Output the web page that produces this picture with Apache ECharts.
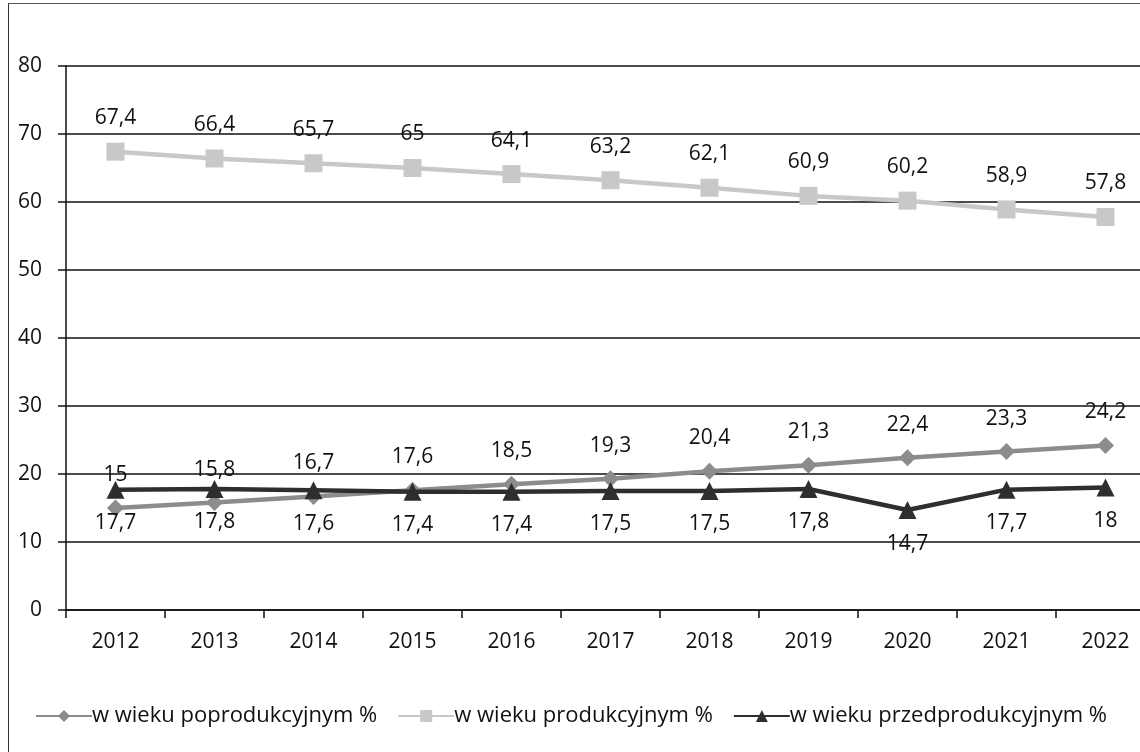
<!DOCTYPE html>
<html>
<head>
<meta charset="utf-8">
<script src="https://cdn.jsdelivr.net/npm/echarts@6/dist/echarts.min.js"></script>
<style>
html,body{margin:0;padding:0;background:#fff;overflow:hidden;width:1140px;height:752px;}
#frame{position:absolute;left:8px;top:3px;width:1140px;height:760px;border-left:1.5px solid #333;border-top:1.5px solid #555;}
#chart{position:absolute;left:0;top:0;width:1180px;height:752px;}
</style>
</head>
<body>
<div id="frame"></div>
<div id="chart"></div>
<script>
const years = ['2012','2013','2014','2015','2016','2017','2018','2019','2020','2021','2022'];
const poprodukcyjny = [15, 15.8, 16.7, 17.6, 18.5, 19.3, 20.4, 21.3, 22.4, 23.3, 24.2];
const produkcyjny = [67.4, 66.4, 65.7, 65, 64.1, 63.2, 62.1, 60.9, 60.2, 58.9, 57.8];
const przedprodukcyjny = [17.7, 17.8, 17.6, 17.4, 17.4, 17.5, 17.5, 17.8, 14.7, 17.7, 18];
const seriesNames = ['w wieku poprodukcyjnym %', 'w wieku produkcyjnym %', 'w wieku przedprodukcyjnym %'];

const FONT = '"Open Sans", "Noto Sans", sans-serif';
const fmt = p => String(p.value).replace('.', ',');

const chart = echarts.init(document.getElementById('chart'), null, {renderer: 'canvas'});
chart.setOption({
  animation: false,
  backgroundColor: 'transparent',
  grid: {left: 66, top: 66, width: 1089, height: 544, containLabel: false},
  xAxis: {
    type: 'category',
    data: years,
    boundaryGap: true,
    axisLine: {lineStyle: {color: '#111', width: 1.5}},
    axisTick: {show: true, length: 8, lineStyle: {color: '#111', width: 1.5}},
    axisLabel: {color: '#111', fontFamily: FONT, fontSize: 21, margin: 22}
  },
  yAxis: {
    type: 'value',
    min: 0, max: 80, interval: 10,
    axisLine: {show: true, lineStyle: {color: '#111', width: 1.5}},
    axisTick: {show: true, inside: false, length: 8, lineStyle: {color: '#111', width: 1.5}},
    axisLabel: {color: '#111', fontFamily: FONT, fontSize: 21, margin: 24},
    splitLine: {lineStyle: {color: '#111', width: 1.5}}
  },
  legend: {
    left: 30, top: 700,
    itemWidth: 56, itemHeight: 15, itemGap: 20,
    textStyle: {color: '#111', fontFamily: FONT, fontSize: 22, padding: [0,0,0,-5]},
    data: seriesNames
  },
  series: [
    {
      name: seriesNames[0], type: 'line', data: poprodukcyjny,
      symbol: 'diamond', symbolSize: 17,
      lineStyle: {color: '#8c8c8c', width: 4.5},
      itemStyle: {color: '#8c8c8c'},
      label: {show: true, position: 'top', distance: 14, color: '#111', fontFamily: FONT, fontSize: 21, formatter: fmt},
      z: 3
    },
    {
      name: seriesNames[1], type: 'line', data: produkcyjny,
      symbol: 'rect', symbolSize: 18,
      lineStyle: {color: '#c8c8c8', width: 4.5},
      itemStyle: {color: '#c8c8c8'},
      label: {show: true, position: 'top', distance: 14, color: '#111', fontFamily: FONT, fontSize: 21, formatter: fmt},
      z: 2
    },
    {
      name: seriesNames[2], type: 'line', data: przedprodukcyjny,
      symbol: 'triangle', symbolSize: 18,
      lineStyle: {color: '#2e2e2e', width: 4.5},
      itemStyle: {color: '#2e2e2e'},
      label: {show: true, position: 'bottom', distance: 14, color: '#111', fontFamily: FONT, fontSize: 21, formatter: fmt},
      z: 4
    }
  ]
});
</script>
</body>
</html>
